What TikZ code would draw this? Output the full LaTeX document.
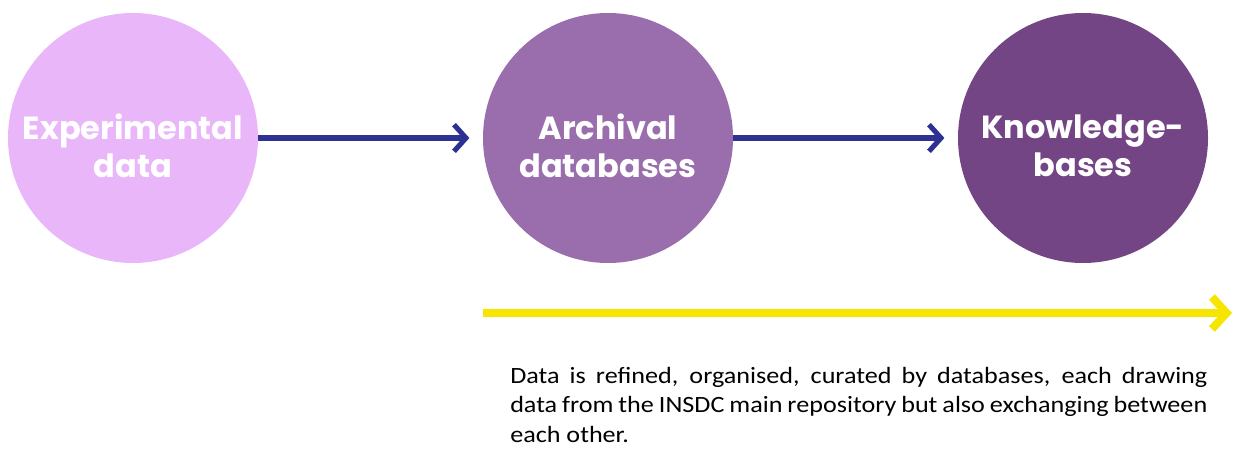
\documentclass[tikz,border=0pt]{standalone}
\usepackage{fontspec}
\setmainfont{Carlito}
\newfontfamily\headfont{Poppins}[BoldFont={* Bold}]
\newfontfamily\notefont{Carlito}[FakeStretch=1.12]
\newcommand\nohyphens{\hyphenpenalty=10000 \exhyphenpenalty=10000 }
\usetikzlibrary{arrows.meta}

\definecolor{lilac}{RGB}{234,182,250}
\definecolor{mauve}{RGB}{154,110,173}
\definecolor{plum}{RGB}{116,69,132}
\definecolor{navyline}{RGB}{46,49,146}
\definecolor{flowyellow}{RGB}{245,229,0}

\begin{document}
\begin{tikzpicture}[
  x=0.75pt, y=-0.75pt,
  stage/.style={circle, minimum size=187.5pt, inner sep=0pt},
  stagetext/.style={align=center, inner sep=0pt, text=white,
                    font=\headfont\bfseries\fontsize{24}{28}\selectfont},
  flow/.style={line width=3.8pt, navyline, shorten >=10pt,
               -{Straight Barb[length=9pt, width=20pt, line join=miter]}},
  trend/.style={line width=6pt, flowyellow,
                -{Straight Barb[length=11pt, width=24pt, line join=miter]}},
  note/.style={anchor=north west, inner sep=0pt, text width=522.75pt, align=justify,
               font=\notefont\fontsize{17.5}{22}\selectfont\nohyphens},
]

  \useasboundingbox (0,0) rectangle (1234,449);

  % --- Stages ---
  \node[stage, fill=lilac] (exp)  at (133,138)  {};
  \node[stage, fill=mauve] (arch) at (608,138)  {};
  \node[stage, fill=plum]  (know) at (1083,138) {};

  \node[stagetext] (exp-t)  at ([yshift=-5.8pt]exp.center)  {Experimental\\data};
  \node[stagetext] (arch-t) at ([yshift=-5.8pt]arch.center) {Archival\\databases};
  \node[stagetext] (know-t) at ([yshift=-5.8pt]know.center) {Knowledge-\\bases};

  % --- Connectors ---
  \draw[flow] (exp) -- (arch);
  \draw[flow] (arch) -- (know);

  % --- Refinement arrow ---
  \coordinate (tstart) at (483,313);
  \coordinate (tend)   at (1232,313);
  \draw[trend] (tstart) -- (tend);

  \node[note] (desc) at (510,367)
    {Data is refined, organised, curated by databases, each drawing\linebreak
     data from the INSDC main repository but also exchanging between\linebreak
     each other.};

\end{tikzpicture}
\end{document}
